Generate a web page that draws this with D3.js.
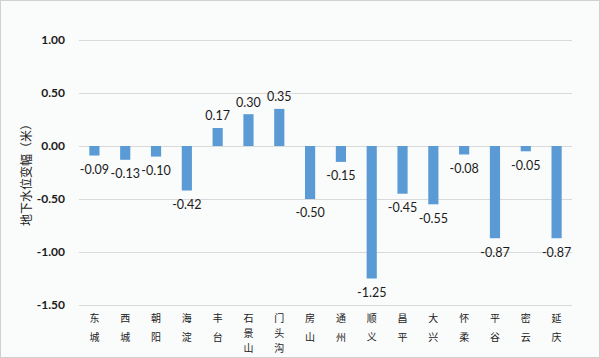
<!DOCTYPE html>
<html><head><meta charset="utf-8">
<script src="https://cdn.jsdelivr.net/npm/d3@7"></script>
<style>
html,body{margin:0;padding:0;background:#fff;}
svg{display:block;}
</style></head>
<body>
<script>
const categories = ["东城","西城","朝阳","海淀","丰台","石景山","门头沟","房山","通州","顺义","昌平","大兴","怀柔","平谷","密云","延庆"];
const values = [-0.09,-0.13,-0.10,-0.42,0.17,0.30,0.35,-0.50,-0.15,-1.25,-0.45,-0.55,-0.08,-0.87,-0.05,-0.87];
const yTicks = [1.00,0.50,0.00,-0.50,-1.00,-1.50];
const yTitle = "地下水位变幅（米）";

const W=600,H=358;
const fmt=d=>d3.format(".2f")(d).replace("\u2212","-");
const svg=d3.select("body").append("svg").attr("width",W).attr("height",H);
svg.append("rect").attr("x",0.5).attr("y",0.5).attr("width",W-1).attr("height",H-1)
  .attr("fill","#fafbfb").attr("stroke","#d0d0d0");

const x=d3.scaleBand().domain(categories).range([79,572]).paddingInner(0.67).paddingOuter(0.335);
const y=d3.scaleLinear().domain([-1.5,1.0]).range([305,40]);

const grid=svg.append("g");
grid.selectAll("line").data(yTicks).join("line")
  .attr("x1",79).attr("x2",572).attr("y1",d=>Math.round(y(d))+0.5).attr("y2",d=>Math.round(y(d))+0.5)
  .attr("stroke","#d9d9d9").attr("stroke-width",1);

svg.append("g").selectAll("text").data(yTicks).join("text")
  .attr("x",65).attr("y",d=>y(d)).attr("dy","0.35em").attr("text-anchor","end")
  .attr("font-family","Lato, 'Open Sans', sans-serif").attr("font-weight","bold").attr("font-size",12).attr("fill","#1a1a1a")
  .text(fmt);

svg.append("g").selectAll("rect").data(values).join("rect")
  .attr("x",(d,i)=>x(categories[i])).attr("width",x.bandwidth())
  .attr("y",d=>y(Math.max(0,d))).attr("height",d=>Math.abs(y(d)-y(0)))
  .attr("fill","#5b9bd5");

svg.append("g").selectAll("text").data(values).join("text")
  .attr("x",(d,i)=>x(categories[i])+x.bandwidth()/2)
  .attr("y",d=>d>=0?y(d)-12:y(d)+14).attr("dy","0.35em").attr("text-anchor","middle")
  .attr("font-family","Lato, 'Open Sans', sans-serif").attr("font-size",12.5).attr("fill","#1a1a1a")
  .text(fmt);

const cat=svg.append("g");
categories.forEach(d=>{
  const cx=x(d)+x.bandwidth()/2;
  const chars=Array.from(d);
  const step=chars.length>2?15:19;
  cat.append("g").selectAll("text").data(chars).join("text")
    .attr("text-anchor","middle").attr("font-family","'Noto Sans CJK SC', sans-serif")
    .attr("font-size",10).attr("fill","#1a1a1a")
    .attr("x",cx).attr("y",(c,j)=>318+j*step).attr("dy","0.35em").text(c=>c);
});

svg.append("text").attr("transform","translate(27,172) rotate(-90)")
  .attr("text-anchor","middle").attr("dy","0.35em")
  .attr("font-family","'Noto Sans CJK SC', sans-serif").attr("font-size",12).attr("fill","#1a1a1a")
  .text(yTitle);
</script>
</body></html>
